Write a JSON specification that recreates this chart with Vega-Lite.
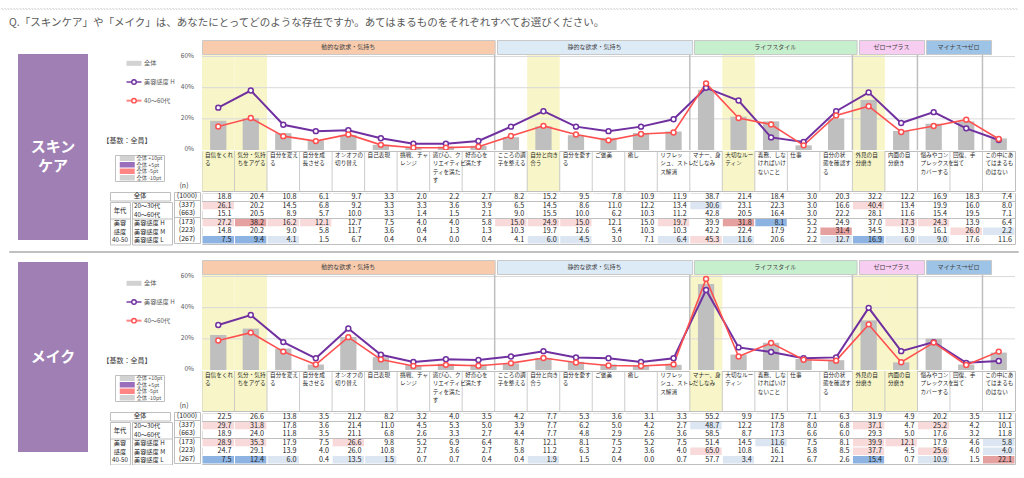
{
"$schema": "https://vega.github.io/schema/vega-lite/v6.json",
"background": "white",
"padding": {"top": 7, "left": 0, "right": 0, "bottom": 0},
"config": {"view": {"stroke": null}, "font": "Noto Sans CJK JP", "text": {"font": "Noto Sans CJK JP"}, "concat": {"spacing": 0}, "axis": {"disable": true}},
"datasets": {
"skin": [
{"i":1,"label":"自信をくれ\nる","hl":true,"all":18.8,"a2030":26.1,"a4060":15.1,"h":27.2,"m":14.8,"l":7.5},
{"i":2,"label":"気分・気持\nちをアゲる","hl":true,"all":20.4,"a2030":20.2,"a4060":20.5,"h":38.2,"m":20.2,"l":9.4},
{"i":3,"label":"自分を変え\nる","hl":false,"all":10.8,"a2030":14.5,"a4060":8.9,"h":16.2,"m":9.0,"l":4.1},
{"i":4,"label":"自分を成\n長させる","hl":false,"all":6.1,"a2030":6.8,"a4060":5.7,"h":12.1,"m":5.8,"l":1.5},
{"i":5,"label":"オンオフの\n切り替え","hl":false,"all":9.7,"a2030":9.2,"a4060":10.0,"h":12.7,"m":11.7,"l":6.7},
{"i":6,"label":"自己表現","hl":false,"all":3.3,"a2030":3.3,"a4060":3.3,"h":7.5,"m":3.6,"l":0.4},
{"i":7,"label":"挑戦、チャ\nレンジ","hl":false,"all":2.0,"a2030":3.3,"a4060":1.4,"h":4.0,"m":0.4,"l":0.4},
{"i":8,"label":"遊び心、ク\nリエイティビ\nティを満た\nす","hl":false,"all":2.2,"a2030":3.6,"a4060":1.5,"h":4.0,"m":1.3,"l":0.0},
{"i":9,"label":"好奇心を\n満たす","hl":false,"all":2.7,"a2030":3.9,"a4060":2.1,"h":5.8,"m":1.3,"l":0.4},
{"i":10,"label":"こころの調\n子を整える","hl":false,"all":8.2,"a2030":6.5,"a4060":9.0,"h":15.0,"m":10.3,"l":4.1},
{"i":11,"label":"自分と向き\n合う","hl":true,"all":15.2,"a2030":14.5,"a4060":15.5,"h":24.9,"m":19.7,"l":6.0},
{"i":12,"label":"自分を愛す\nる","hl":false,"all":9.5,"a2030":8.6,"a4060":10.0,"h":15.0,"m":12.6,"l":4.5},
{"i":13,"label":"ご褒美","hl":false,"all":7.8,"a2030":11.0,"a4060":6.2,"h":12.1,"m":5.4,"l":3.0},
{"i":14,"label":"癒し","hl":false,"all":10.9,"a2030":12.2,"a4060":10.3,"h":15.0,"m":10.3,"l":7.1},
{"i":15,"label":"リフレッ\nシュ、ストレ\nス解消","hl":false,"all":11.9,"a2030":13.4,"a4060":11.2,"h":19.7,"m":10.3,"l":6.4},
{"i":16,"label":"マナー、身\nだしなみ","hl":false,"all":38.7,"a2030":30.6,"a4060":42.8,"h":39.9,"m":42.2,"l":45.3},
{"i":17,"label":"大切なルー\nティン","hl":true,"all":21.4,"a2030":23.1,"a4060":20.5,"h":31.8,"m":22.4,"l":11.6},
{"i":18,"label":"義務、しな\nければいけ\nないこと","hl":false,"all":18.4,"a2030":22.3,"a4060":16.4,"h":8.1,"m":17.9,"l":20.6},
{"i":19,"label":"仕事","hl":false,"all":3.0,"a2030":3.0,"a4060":3.0,"h":5.2,"m":2.2,"l":2.2},
{"i":20,"label":"自分の状\n態を確認す\nる","hl":false,"all":20.3,"a2030":16.6,"a4060":22.2,"h":24.9,"m":31.4,"l":12.7},
{"i":21,"label":"外見の自\n分磨き","hl":true,"all":32.2,"a2030":40.4,"a4060":28.1,"h":37.0,"m":34.5,"l":16.9},
{"i":22,"label":"内面の自\n分磨き","hl":false,"all":12.2,"a2030":13.4,"a4060":11.6,"h":17.3,"m":13.9,"l":6.0},
{"i":23,"label":"悩みやコン\nプレックスを\nカバーする","hl":false,"all":16.9,"a2030":19.9,"a4060":15.4,"h":24.3,"m":16.1,"l":9.0},
{"i":24,"label":"回復、手\n当て","hl":false,"all":18.3,"a2030":16.0,"a4060":19.5,"h":13.9,"m":26.0,"l":17.6},
{"i":25,"label":"この中にあ\nてはまるも\nのはない","hl":false,"all":7.4,"a2030":8.0,"a4060":7.1,"h":6.4,"m":2.2,"l":11.6}
],
"make": [
{"i":1,"label":"自信をくれ\nる","hl":true,"all":22.5,"a2030":29.7,"a4060":18.9,"h":28.9,"m":24.7,"l":7.5},
{"i":2,"label":"気分・気持\nちをアゲる","hl":true,"all":26.6,"a2030":31.8,"a4060":24.0,"h":35.3,"m":29.1,"l":12.4},
{"i":3,"label":"自分を変え\nる","hl":false,"all":13.8,"a2030":17.8,"a4060":11.8,"h":17.9,"m":13.9,"l":6.0},
{"i":4,"label":"自分を成\n長させる","hl":false,"all":3.5,"a2030":3.6,"a4060":3.5,"h":7.5,"m":4.0,"l":0.4},
{"i":5,"label":"オンオフの\n切り替え","hl":false,"all":21.2,"a2030":21.4,"a4060":21.1,"h":26.6,"m":26.0,"l":13.5},
{"i":6,"label":"自己表現","hl":false,"all":8.2,"a2030":11.0,"a4060":6.8,"h":9.8,"m":10.8,"l":1.5},
{"i":7,"label":"挑戦、チャ\nレンジ","hl":false,"all":3.2,"a2030":4.5,"a4060":2.6,"h":5.2,"m":2.7,"l":0.7},
{"i":8,"label":"遊び心、ク\nリエイティビ\nティを満た\nす","hl":false,"all":4.0,"a2030":5.3,"a4060":3.3,"h":6.9,"m":3.6,"l":0.7},
{"i":9,"label":"好奇心を\n満たす","hl":false,"all":3.5,"a2030":5.0,"a4060":2.7,"h":6.4,"m":2.7,"l":0.4},
{"i":10,"label":"こころの調\n子を整える","hl":false,"all":4.2,"a2030":3.9,"a4060":4.4,"h":8.7,"m":5.8,"l":0.4},
{"i":11,"label":"自分と向き\n合う","hl":false,"all":7.7,"a2030":7.7,"a4060":7.7,"h":12.1,"m":11.2,"l":1.9},
{"i":12,"label":"自分を愛す\nる","hl":false,"all":5.3,"a2030":6.2,"a4060":4.8,"h":8.1,"m":6.3,"l":1.5},
{"i":13,"label":"ご褒美","hl":false,"all":3.6,"a2030":5.0,"a4060":2.9,"h":7.5,"m":2.2,"l":0.4},
{"i":14,"label":"癒し","hl":false,"all":3.1,"a2030":4.2,"a4060":2.6,"h":5.2,"m":3.6,"l":0.0},
{"i":15,"label":"リフレッ\nシュ、ストレ\nス解消","hl":false,"all":3.3,"a2030":2.7,"a4060":3.6,"h":7.5,"m":4.0,"l":0.7},
{"i":16,"label":"マナー、身\nだしなみ","hl":true,"all":55.2,"a2030":48.7,"a4060":58.5,"h":51.4,"m":65.0,"l":57.7},
{"i":17,"label":"大切なルー\nティン","hl":false,"all":9.9,"a2030":12.2,"a4060":8.7,"h":14.5,"m":10.8,"l":3.4},
{"i":18,"label":"義務、しな\nければいけ\nないこと","hl":false,"all":17.5,"a2030":17.8,"a4060":17.3,"h":11.6,"m":16.1,"l":22.1},
{"i":19,"label":"仕事","hl":false,"all":7.1,"a2030":8.0,"a4060":6.6,"h":7.5,"m":5.8,"l":6.7},
{"i":20,"label":"自分の状\n態を確認す\nる","hl":false,"all":6.3,"a2030":6.8,"a4060":6.0,"h":8.1,"m":8.5,"l":2.6},
{"i":21,"label":"外見の自\n分磨き","hl":true,"all":31.9,"a2030":37.1,"a4060":29.3,"h":39.9,"m":37.7,"l":15.4},
{"i":22,"label":"内面の自\n分磨き","hl":true,"all":4.9,"a2030":4.7,"a4060":5.0,"h":12.1,"m":4.5,"l":0.7},
{"i":23,"label":"悩みやコン\nプレックスを\nカバーする","hl":false,"all":20.2,"a2030":25.2,"a4060":17.6,"h":17.9,"m":25.6,"l":10.9},
{"i":24,"label":"回復、手\n当て","hl":false,"all":3.5,"a2030":4.2,"a4060":3.2,"h":4.6,"m":4.0,"l":1.5},
{"i":25,"label":"この中にあ\nてはまるも\nのはない","hl":false,"all":11.2,"a2030":10.1,"a4060":11.8,"h":5.8,"m":4.0,"l":22.1}
],
"bounds": [{"b":10},{"b":16},{"b":21},{"b":23},{"b":25}],
"ylab": [{"v":0,"lab":"0%"},{"v":20,"lab":"20%"},{"v":40,"lab":"40%"},{"v":60,"lab":"60%"}],
"rows": [{"key":"all","n":"(1000)"},{"key":"a2030","n":"(337)"},{"key":"a4060","n":"(663)"},{"key":"h","n":"(173)"},{"key":"m","n":"(223)"},{"key":"l","n":"(267)"}],
"series": [{"s":"全体"},{"s":"美容感度 H"},{"s":"40～60代"}],
"shade": [{"c":"p10","t":"全体 +10pt"},{"c":"p5","t":"全体 +5pt"},{"c":"m5","t":"全体 -5pt"},{"c":"m10","t":"全体 -10pt"}],
"grp2": [{"key":"h","t":"美容"},{"key":"m","t":"感度"},{"key":"l","t":"40-50"}],
"rlab": [{"key":"a2030","t":"20～30代"},{"key":"a4060","t":"40～60代"},{"key":"h","t":"美容感度 H"},{"key":"m","t":"美容感度 M"},{"key":"l","t":"美容感度 L"}]
},
"spacing": 0,
"vconcat": [
{"width":1016,"height":1,"view":{"stroke":"#c8c8c8","strokeDash":[1,2]},"data":{"values":[{}]},"mark":{"type":"rect","opacity":0}},
{"width":1016,"height":25,"data":{"values":[{"t":"Q.「スキンケア」や「メイク」は、あなたにとってどのような存在ですか。あてはまるものをそれぞれすべてお選びください。"}]},"mark":{"type":"text","align":"left","dx":8,"fontSize":10.5,"color":"#595959","clip":true},"encoding":{"x":{"datum":0,"type":"quantitative","axis":null,"scale":{"domain":[0,1]}},"text":{"field":"t"}}},
{"width":1016,"height":4,"data":{"values":[{}]},"mark":{"type":"rect","opacity":0}},

{"spacing":0,"hconcat":[
 {"width":17,"height":10,"data":{"values":[{}]},"mark":{"type":"rect","opacity":0}},
 {"spacing":0,"vconcat":[
  {"width":70,"height":14,"data":{"values":[{}]},"mark":{"type":"rect","opacity":0}},
  {"width":70,"height":186,"view":{"fill":"#a080b4","stroke":null},"data":{"values":[{"t":"スキン\nケア"}]},"mark":{"type":"text","color":"white","fontSize":15,"fontWeight":"bold","lineBreak":"\n","lineHeight":19,"clip":true},"encoding":{"text":{"field":"t"}}}
 ]},
 {"width":8,"height":10,"data":{"values":[{}]},"mark":{"type":"rect","opacity":0}},
 {"spacing":0,"vconcat":[
  {"width":99,"height":9,"data":{"values":[{}]},"mark":{"type":"rect","opacity":0}},
  {"spacing":0,"hconcat":[
   {"spacing":0,"vconcat":[
    {"width":80,"height":5,"data":{"values":[{}]},"mark":{"type":"rect","opacity":0}},
    {"spacing":0,"hconcat":[
     {"width":24,"height":56,"data":{"values":[{}]},"mark":{"type":"rect","opacity":0}},
     {"width":56,"height":56,"data":{"name":"series"},
      "encoding":{"y":{"field":"s","type":"nominal","axis":null,"scale":{"type":"point","domain":["全体","美容感度 H","40～60代"],"padding":0.5}}},
      "layer":[
       {"transform":[{"filter":"datum.s === '全体'"}],"mark":{"type":"tick","orient":"horizontal","size":15,"thickness":5,"color":"#bfbfbf","clip":true},"encoding":{"x":{"datum":"sym","type":"nominal","axis":null,"scale":{"type":"band","domain":["sym","lab"],"paddingInner":0,"paddingOuter":0}}}},
       {"transform":[{"filter":"datum.s !== '全体'"}],"mark":{"type":"tick","orient":"horizontal","size":15,"thickness":2,"clip":true},"encoding":{"x":{"datum":"sym","type":"nominal","axis":null},"color":{"field":"s","type":"nominal","scale":{"domain":["全体","美容感度 H","40～60代"],"range":["#bfbfbf","#7030a0","#ff5050"]},"legend":null}}},
       {"transform":[{"filter":"datum.s !== '全体'"}],"mark":{"type":"point","filled":true,"fill":"white","strokeWidth":1.4,"size":20,"opacity":1,"clip":true},"encoding":{"x":{"datum":"sym","type":"nominal","axis":null},"stroke":{"field":"s","type":"nominal","scale":{"domain":["全体","美容感度 H","40～60代"],"range":["#bfbfbf","#7030a0","#ff5050"]},"legend":null}}},
       {"mark":{"type":"text","align":"left","dx":-4,"fontSize":6.2,"color":"#595959","clip":true},"encoding":{"x":{"datum":"sym","type":"nominal","bandPosition":1,"axis":null},"text":{"field":"s"}}}
      ]}
    ]},
    {"width":80,"height":26,"data":{"values":[{}]},"mark":{"type":"rect","opacity":0}},
    {"spacing":0,"hconcat":[
     {"width":6,"height":10,"data":{"values":[{}]},"mark":{"type":"rect","opacity":0}},
     {"width":50,"height":10,"data":{"values":[{"t":"【基数：全員】"}]},"mark":{"type":"text","fontSize":7,"color":"#404040","clip":true},"encoding":{"text":{"field":"t"}}}
    ]},
    {"width":80,"height":8,"data":{"values":[{}]},"mark":{"type":"rect","opacity":0}}
   ]},
   {"width":19,"height":105,"data":{"name":"ylab"},"mark":{"type":"text","align":"right","dx":-1,"fontSize":6.5,"color":"#595959","clip":true},"encoding":{"x":{"datum":1,"type":"quantitative","axis":null,"scale":{"domain":[0,1]}},"y":{"field":"v","type":"quantitative","axis":null,"scale":{"domain":[-3.21,64.21],"nice":false,"zero":false}},"text":{"field":"lab"}}}
  ]},
  {"spacing":0,"hconcat":[
   {"width":18,"height":35,"data":{"values":[{}]},"mark":{"type":"rect","opacity":0}},
   {"spacing":0,"vconcat":[
    {"width":49,"height":26,"view":{"stroke":"#bfbfbf","fill":"white"},"data":{"name":"shade"},
     "encoding":{"y":{"field":"c","type":"nominal","axis":null,"scale":{"type":"point","domain":["p10","p5","m5","m10"],"padding":0.5}}},
     "layer":[
      {"mark":{"type":"tick","orient":"horizontal","size":15,"thickness":5.5,"clip":true},"encoding":{"x":{"datum":"sw","type":"nominal","axis":null,"scale":{"type":"band","domain":["sw","lab"],"paddingInner":0,"paddingOuter":0}},"color":{"field":"c","type":"nominal","scale":{"domain":["p10","p5","m5","m10"],"range":["#e5a0a0","#f8dada","#dce6f2","#8db3e2"]},"legend":null}}},
      {"mark":{"type":"text","align":"left","dx":-3,"fontSize":5.3,"color":"#595959","clip":true},"encoding":{"x":{"datum":"lab","type":"nominal","bandPosition":0,"axis":null},"text":{"field":"t"}}}
     ]},
    {"width":49,"height":9,"data":{"values":[{}]},"mark":{"type":"rect","opacity":0}}
   ]},
   {"width":6,"height":35,"data":{"values":[{}]},"mark":{"type":"rect","opacity":0}},
   {"spacing":0,"vconcat":[
    {"width":26,"height":26,"data":{"values":[{}]},"mark":{"type":"rect","opacity":0}},
    {"width":26,"height":9,"data":{"values":[{"t":"(n)"}]},"mark":{"type":"text","fontSize":7,"color":"#404040","clip":true},"encoding":{"text":{"field":"t"}}}
   ]}
  ]},
  {"spacing":0,"hconcat":[
   {"width":13,"height":51,"data":{"values":[{}]},"mark":{"type":"rect","opacity":0}},
   {"spacing":0,"vconcat":[
    {"width":60,"height":8.5,"view":{"stroke":"#bfbfbf"},"data":{"values":[{"t":"全体"}]},"mark":{"type":"text","fontSize":6.3,"color":"#262626","clip":true},"encoding":{"text":{"field":"t"}}},
    {"spacing":0,"hconcat":[
     {"width":20,"height":42.5,"view":{"stroke":"#bfbfbf"},"layer":[
      {"data":{"values":[{"t":"年代"}]},"mark":{"type":"text","fontSize":6.3,"color":"#262626","clip":true},"encoding":{"y":{"datum":"a4060","type":"nominal","bandPosition":0,"axis":null,"scale":{"type":"band","domain":["a2030","a4060","h","m","l"],"paddingInner":0,"paddingOuter":0}},"text":{"field":"t"}}},
      {"data":{"name":"grp2"},"mark":{"type":"text","fontSize":6.2,"color":"#262626","clip":true},"encoding":{"y":{"field":"key","type":"nominal","axis":null},"text":{"field":"t"}}},
      {"data":{"values":[{"key":"h"}]},"mark":{"type":"rule","color":"#bfbfbf","clip":true},"encoding":{"y":{"field":"key","type":"nominal","bandPosition":0,"axis":null}}}
     ]},
     {"width":40,"height":42.5,"view":{"stroke":"#bfbfbf"},"layer":[
      {"data":{"name":"rlab"},"mark":{"type":"text","align":"left","dx":2,"fontSize":6.2,"color":"#262626","clip":true},"encoding":{"x":{"datum":0,"type":"quantitative","axis":null,"scale":{"domain":[0,1]}},"y":{"field":"key","type":"nominal","axis":null,"scale":{"type":"band","domain":["a2030","a4060","h","m","l"],"paddingInner":0,"paddingOuter":0}},"text":{"field":"t"}}},
      {"data":{"values":[{"key":"h"}]},"mark":{"type":"rule","color":"#bfbfbf","clip":true},"encoding":{"y":{"field":"key","type":"nominal","bandPosition":0,"axis":null}}}
     ]}
    ]}
   ]},
   {"width":26,"height":51,"view":{"stroke":"#bfbfbf"},"layer":[
    {"data":{"name":"rows"},"mark":{"type":"text","fontSize":7,"color":"#262626","clip":true},"encoding":{"y":{"field":"key","type":"nominal","axis":null,"scale":{"type":"band","domain":["all","a2030","a4060","h","m","l"],"paddingInner":0,"paddingOuter":0}},"text":{"field":"n"}}},
    {"data":{"values":[{"key":"a2030"},{"key":"h"}]},"mark":{"type":"rule","color":"#bfbfbf","clip":true},"encoding":{"y":{"field":"key","type":"nominal","bandPosition":0,"axis":null}}}
   ]}
  ]}
 ]},
 {"spacing":0,"vconcat":[
  {"spacing":0,"hconcat":[
   {"width":292.68,"height":14,"view":{"fill":"#f8cbad","stroke":"#c9c9c9"},"data":{"values":[{"g":"動的な欲求・気持ち"}]},"mark":{"type":"text","fontSize":6,"color":"#404040","clip":true},"encoding":{"text":{"field":"g"}}},
   {"width":195.12,"height":14,"view":{"fill":"#ddebf7","stroke":"#c9c9c9"},"data":{"values":[{"g":"静的な欲求・気持ち"}]},"mark":{"type":"text","fontSize":6,"color":"#404040","clip":true},"encoding":{"text":{"field":"g"}}},
   {"width":162.6,"height":14,"view":{"fill":"#c6efce","stroke":"#c9c9c9"},"data":{"values":[{"g":"ライフスタイル"}]},"mark":{"type":"text","fontSize":6,"color":"#404040","clip":true},"encoding":{"text":{"field":"g"}}},
   {"width":65.04,"height":14,"view":{"fill":"#f8cdf2","stroke":"#c9c9c9"},"data":{"values":[{"g":"ゼロ→プラス"}]},"mark":{"type":"text","fontSize":6,"color":"#404040","clip":true},"encoding":{"text":{"field":"g"}}},
   {"width":65.04,"height":14,"view":{"fill":"#9dc3e6","stroke":"#c9c9c9"},"data":{"values":[{"g":"マイナス→ゼロ"}]},"mark":{"type":"text","fontSize":6,"color":"#404040","clip":true},"encoding":{"text":{"field":"g"}}},
   {"width":32.52,"height":14,"data":{"values":[{}]},"mark":{"type":"rect","opacity":0}}
  ]},
  {"width":813,"height":95,"data":{"name":"skin"},"layer":[
   {"transform":[{"filter":"datum.hl"}],"mark":{"type":"rect","color":"#f8f6c8","clip":true},"encoding":{"x":{"field":"i","type":"ordinal","axis":null,"scale":{"domain":[1,2,3,4,5,6,7,8,9,10,11,12,13,14,15,16,17,18,19,20,21,22,23,24,25],"paddingInner":0,"paddingOuter":0}}}},
   {"data":{"name":"ylab"},"transform":[{"filter":"datum.v > 0"}],"mark":{"type":"rule","color":"#d9d9d9","clip":true},"encoding":{"y":{"field":"v","type":"quantitative","axis":null,"scale":{"domain":[0,61],"nice":false}}}},
   {"mark":{"type":"bar","color":"#bfbfbf","width":{"band":0.5},"clip":true},"encoding":{"x":{"field":"i","type":"ordinal","axis":null},"y":{"field":"all","type":"quantitative","axis":null,"scale":{"domain":[0,61],"nice":false}}}},
   {"data":{"name":"bounds"},"mark":{"type":"rule","color":"#bfbfbf","strokeWidth":1.5,"clip":true},"encoding":{"x":{"field":"b","type":"ordinal","bandPosition":0,"axis":null}}},
   {"mark":{"type":"line","color":"#7030a0","strokeWidth":2,"clip":true},"encoding":{"x":{"field":"i","type":"ordinal","axis":null},"y":{"field":"h","type":"quantitative","axis":null,"scale":{"domain":[0,61],"nice":false}}}},
   {"mark":{"type":"line","color":"#ff5050","strokeWidth":1.6,"clip":true},"encoding":{"x":{"field":"i","type":"ordinal","axis":null},"y":{"field":"a4060","type":"quantitative","axis":null,"scale":{"domain":[0,61],"nice":false}}}},
   {"mark":{"type":"point","filled":true,"fill":"white","stroke":"#7030a0","strokeWidth":1.5,"size":24,"opacity":1,"clip":true},"encoding":{"x":{"field":"i","type":"ordinal","axis":null},"y":{"field":"h","type":"quantitative","axis":null,"scale":{"domain":[0,61],"nice":false}}}},
   {"mark":{"type":"point","filled":true,"fill":"white","stroke":"#ff5050","strokeWidth":1.5,"size":24,"opacity":1,"clip":true},"encoding":{"x":{"field":"i","type":"ordinal","axis":null},"y":{"field":"a4060","type":"quantitative","axis":null,"scale":{"domain":[0,61],"nice":false}}}}
  ]},
  {"width":813,"height":40,"data":{"name":"skin"},"view":{"stroke":"#bfbfbf"},"layer":[
   {"transform":[{"filter":"datum.hl"}],"mark":{"type":"rect","color":"#f8f6c8","clip":true},"encoding":{"x":{"field":"i","type":"ordinal","axis":null,"scale":{"domain":[1,2,3,4,5,6,7,8,9,10,11,12,13,14,15,16,17,18,19,20,21,22,23,24,25],"paddingInner":0,"paddingOuter":0}}}},
   {"mark":{"type":"rule","color":"#bfbfbf","strokeWidth":0.8,"clip":true},"encoding":{"x":{"field":"i","type":"ordinal","bandPosition":0,"axis":null}}},
   {"mark":{"type":"text","align":"left","baseline":"top","lineBreak":"\n","fontSize":5.6,"lineHeight":8.3,"dx":3,"dy":2,"color":"#262626","clip":true},"encoding":{"x":{"field":"i","type":"ordinal","bandPosition":0,"axis":null},"y":{"datum":1,"type":"quantitative","axis":null,"scale":{"domain":[0,1]}},"text":{"field":"label"}}}
  ]},
  {"width":813,"height":51,"view":{"stroke":"#bfbfbf"},"layer":[
   {"data":{"name":"skin"},"transform":[{"fold":["all","a2030","a4060","h","m","l"],"as":["key","v"]}],"mark":{"type":"rect","stroke":"white","strokeWidth":1,"clip":true},"encoding":{"x":{"field":"i","type":"ordinal","axis":null,"scale":{"domain":[1,2,3,4,5,6,7,8,9,10,11,12,13,14,15,16,17,18,19,20,21,22,23,24,25],"paddingInner":0,"paddingOuter":0}},"y":{"field":"key","type":"nominal","axis":null,"scale":{"type":"band","domain":["all","a2030","a4060","h","m","l"],"paddingInner":0,"paddingOuter":0}},"color":{"condition":[{"test":"datum.v - datum.all >= 9.95","value":"#e5a0a0"},{"test":"datum.v - datum.all >= 4.95","value":"#f8dada"},{"test":"datum.v - datum.all <= -9.95","value":"#8db3e2"},{"test":"datum.v - datum.all <= -4.95","value":"#dce6f2"}],"value":"transparent"}}},
   {"data":{"name":"skin"},"transform":[{"fold":["all","a2030","a4060","h","m","l"],"as":["key","v"]}],"mark":{"type":"text","align":"right","dx":-3,"fontSize":7.2,"color":"#262626","clip":true},"encoding":{"x":{"field":"i","type":"ordinal","bandPosition":1,"axis":null},"y":{"field":"key","type":"nominal","axis":null},"text":{"field":"v","type":"quantitative","format":".1f"}}},
   {"data":{"values":[{"key":"a2030"},{"key":"h"}]},"mark":{"type":"rule","color":"#bfbfbf","clip":true},"encoding":{"y":{"field":"key","type":"nominal","bandPosition":0,"axis":null}}}
  ]}
 ]}
]},

{"width":1016,"height":5,"data":{"values":[{}]},"mark":{"type":"rect","opacity":0}},
{"spacing":0,"hconcat":[
 {"width":7,"height":1,"data":{"values":[{}]},"mark":{"type":"rect","opacity":0}},
 {"width":1009,"height":1,"view":{"stroke":"#c0c0c0"},"data":{"values":[{}]},"mark":{"type":"rect","opacity":0}}
]},
{"width":1016,"height":6,"data":{"values":[{}]},"mark":{"type":"rect","opacity":0}},

{"spacing":0,"hconcat":[
 {"width":17,"height":10,"data":{"values":[{}]},"mark":{"type":"rect","opacity":0}},
 {"spacing":0,"vconcat":[
  {"width":70,"height":2,"data":{"values":[{}]},"mark":{"type":"rect","opacity":0}},
  {"width":70,"height":190,"view":{"fill":"#a080b4","stroke":null},"data":{"values":[{"t":"メイク"}]},"mark":{"type":"text","color":"white","fontSize":15,"fontWeight":"bold","clip":true},"encoding":{"text":{"field":"t"}}}
 ]},
 {"width":8,"height":10,"data":{"values":[{}]},"mark":{"type":"rect","opacity":0}},
 {"spacing":0,"vconcat":[
  {"width":99,"height":9,"data":{"values":[{}]},"mark":{"type":"rect","opacity":0}},
  {"spacing":0,"hconcat":[
   {"spacing":0,"vconcat":[
    {"width":80,"height":5,"data":{"values":[{}]},"mark":{"type":"rect","opacity":0}},
    {"spacing":0,"hconcat":[
     {"width":24,"height":56,"data":{"values":[{}]},"mark":{"type":"rect","opacity":0}},
     {"width":56,"height":56,"data":{"name":"series"},
      "encoding":{"y":{"field":"s","type":"nominal","axis":null,"scale":{"type":"point","domain":["全体","美容感度 H","40～60代"],"padding":0.5}}},
      "layer":[
       {"transform":[{"filter":"datum.s === '全体'"}],"mark":{"type":"tick","orient":"horizontal","size":15,"thickness":5,"color":"#bfbfbf","clip":true},"encoding":{"x":{"datum":"sym","type":"nominal","axis":null,"scale":{"type":"band","domain":["sym","lab"],"paddingInner":0,"paddingOuter":0}}}},
       {"transform":[{"filter":"datum.s !== '全体'"}],"mark":{"type":"tick","orient":"horizontal","size":15,"thickness":2,"clip":true},"encoding":{"x":{"datum":"sym","type":"nominal","axis":null},"color":{"field":"s","type":"nominal","scale":{"domain":["全体","美容感度 H","40～60代"],"range":["#bfbfbf","#7030a0","#ff5050"]},"legend":null}}},
       {"transform":[{"filter":"datum.s !== '全体'"}],"mark":{"type":"point","filled":true,"fill":"white","strokeWidth":1.4,"size":20,"opacity":1,"clip":true},"encoding":{"x":{"datum":"sym","type":"nominal","axis":null},"stroke":{"field":"s","type":"nominal","scale":{"domain":["全体","美容感度 H","40～60代"],"range":["#bfbfbf","#7030a0","#ff5050"]},"legend":null}}},
       {"mark":{"type":"text","align":"left","dx":-4,"fontSize":6.2,"color":"#595959","clip":true},"encoding":{"x":{"datum":"sym","type":"nominal","bandPosition":1,"axis":null},"text":{"field":"s"}}}
      ]}
    ]},
    {"width":80,"height":26,"data":{"values":[{}]},"mark":{"type":"rect","opacity":0}},
    {"spacing":0,"hconcat":[
     {"width":6,"height":10,"data":{"values":[{}]},"mark":{"type":"rect","opacity":0}},
     {"width":50,"height":10,"data":{"values":[{"t":"【基数：全員】"}]},"mark":{"type":"text","fontSize":7,"color":"#404040","clip":true},"encoding":{"text":{"field":"t"}}}
    ]},
    {"width":80,"height":8,"data":{"values":[{}]},"mark":{"type":"rect","opacity":0}}
   ]},
   {"width":19,"height":105,"data":{"name":"ylab"},"mark":{"type":"text","align":"right","dx":-1,"fontSize":6.5,"color":"#595959","clip":true},"encoding":{"x":{"datum":1,"type":"quantitative","axis":null,"scale":{"domain":[0,1]}},"y":{"field":"v","type":"quantitative","axis":null,"scale":{"domain":[-3.21,64.21],"nice":false,"zero":false}},"text":{"field":"lab"}}}
  ]},
  {"spacing":0,"hconcat":[
   {"width":18,"height":35,"data":{"values":[{}]},"mark":{"type":"rect","opacity":0}},
   {"spacing":0,"vconcat":[
    {"width":49,"height":26,"view":{"stroke":"#bfbfbf","fill":"white"},"data":{"name":"shade"},
     "encoding":{"y":{"field":"c","type":"nominal","axis":null,"scale":{"type":"point","domain":["p10","p5","m5","m10"],"padding":0.5}}},
     "layer":[
      {"mark":{"type":"tick","orient":"horizontal","size":15,"thickness":5.5,"clip":true},"encoding":{"x":{"datum":"sw","type":"nominal","axis":null,"scale":{"type":"band","domain":["sw","lab"],"paddingInner":0,"paddingOuter":0}},"color":{"field":"c","type":"nominal","scale":{"domain":["p10","p5","m5","m10"],"range":["#e5a0a0","#f8dada","#dce6f2","#8db3e2"]},"legend":null}}},
      {"mark":{"type":"text","align":"left","dx":-3,"fontSize":5.3,"color":"#595959","clip":true},"encoding":{"x":{"datum":"lab","type":"nominal","bandPosition":0,"axis":null},"text":{"field":"t"}}}
     ]},
    {"width":49,"height":9,"data":{"values":[{}]},"mark":{"type":"rect","opacity":0}}
   ]},
   {"width":6,"height":35,"data":{"values":[{}]},"mark":{"type":"rect","opacity":0}},
   {"spacing":0,"vconcat":[
    {"width":26,"height":26,"data":{"values":[{}]},"mark":{"type":"rect","opacity":0}},
    {"width":26,"height":9,"data":{"values":[{"t":"(n)"}]},"mark":{"type":"text","fontSize":7,"color":"#404040","clip":true},"encoding":{"text":{"field":"t"}}}
   ]}
  ]},
  {"spacing":0,"hconcat":[
   {"width":13,"height":51,"data":{"values":[{}]},"mark":{"type":"rect","opacity":0}},
   {"spacing":0,"vconcat":[
    {"width":60,"height":8.5,"view":{"stroke":"#bfbfbf"},"data":{"values":[{"t":"全体"}]},"mark":{"type":"text","fontSize":6.3,"color":"#262626","clip":true},"encoding":{"text":{"field":"t"}}},
    {"spacing":0,"hconcat":[
     {"width":20,"height":42.5,"view":{"stroke":"#bfbfbf"},"layer":[
      {"data":{"values":[{"t":"年代"}]},"mark":{"type":"text","fontSize":6.3,"color":"#262626","clip":true},"encoding":{"y":{"datum":"a4060","type":"nominal","bandPosition":0,"axis":null,"scale":{"type":"band","domain":["a2030","a4060","h","m","l"],"paddingInner":0,"paddingOuter":0}},"text":{"field":"t"}}},
      {"data":{"name":"grp2"},"mark":{"type":"text","fontSize":6.2,"color":"#262626","clip":true},"encoding":{"y":{"field":"key","type":"nominal","axis":null},"text":{"field":"t"}}},
      {"data":{"values":[{"key":"h"}]},"mark":{"type":"rule","color":"#bfbfbf","clip":true},"encoding":{"y":{"field":"key","type":"nominal","bandPosition":0,"axis":null}}}
     ]},
     {"width":40,"height":42.5,"view":{"stroke":"#bfbfbf"},"layer":[
      {"data":{"name":"rlab"},"mark":{"type":"text","align":"left","dx":2,"fontSize":6.2,"color":"#262626","clip":true},"encoding":{"x":{"datum":0,"type":"quantitative","axis":null,"scale":{"domain":[0,1]}},"y":{"field":"key","type":"nominal","axis":null,"scale":{"type":"band","domain":["a2030","a4060","h","m","l"],"paddingInner":0,"paddingOuter":0}},"text":{"field":"t"}}},
      {"data":{"values":[{"key":"h"}]},"mark":{"type":"rule","color":"#bfbfbf","clip":true},"encoding":{"y":{"field":"key","type":"nominal","bandPosition":0,"axis":null}}}
     ]}
    ]}
   ]},
   {"width":26,"height":51,"view":{"stroke":"#bfbfbf"},"layer":[
    {"data":{"name":"rows"},"mark":{"type":"text","fontSize":7,"color":"#262626","clip":true},"encoding":{"y":{"field":"key","type":"nominal","axis":null,"scale":{"type":"band","domain":["all","a2030","a4060","h","m","l"],"paddingInner":0,"paddingOuter":0}},"text":{"field":"n"}}},
    {"data":{"values":[{"key":"a2030"},{"key":"h"}]},"mark":{"type":"rule","color":"#bfbfbf","clip":true},"encoding":{"y":{"field":"key","type":"nominal","bandPosition":0,"axis":null}}}
   ]}
  ]}
 ]},
 {"spacing":0,"vconcat":[
  {"spacing":0,"hconcat":[
   {"width":292.68,"height":14,"view":{"fill":"#f8cbad","stroke":"#c9c9c9"},"data":{"values":[{"g":"動的な欲求・気持ち"}]},"mark":{"type":"text","fontSize":6,"color":"#404040","clip":true},"encoding":{"text":{"field":"g"}}},
   {"width":195.12,"height":14,"view":{"fill":"#ddebf7","stroke":"#c9c9c9"},"data":{"values":[{"g":"静的な欲求・気持ち"}]},"mark":{"type":"text","fontSize":6,"color":"#404040","clip":true},"encoding":{"text":{"field":"g"}}},
   {"width":162.6,"height":14,"view":{"fill":"#c6efce","stroke":"#c9c9c9"},"data":{"values":[{"g":"ライフスタイル"}]},"mark":{"type":"text","fontSize":6,"color":"#404040","clip":true},"encoding":{"text":{"field":"g"}}},
   {"width":65.04,"height":14,"view":{"fill":"#f8cdf2","stroke":"#c9c9c9"},"data":{"values":[{"g":"ゼロ→プラス"}]},"mark":{"type":"text","fontSize":6,"color":"#404040","clip":true},"encoding":{"text":{"field":"g"}}},
   {"width":65.04,"height":14,"view":{"fill":"#9dc3e6","stroke":"#c9c9c9"},"data":{"values":[{"g":"マイナス→ゼロ"}]},"mark":{"type":"text","fontSize":6,"color":"#404040","clip":true},"encoding":{"text":{"field":"g"}}},
   {"width":32.52,"height":14,"data":{"values":[{}]},"mark":{"type":"rect","opacity":0}}
  ]},
  {"width":813,"height":95,"data":{"name":"make"},"layer":[
   {"transform":[{"filter":"datum.hl"}],"mark":{"type":"rect","color":"#f8f6c8","clip":true},"encoding":{"x":{"field":"i","type":"ordinal","axis":null,"scale":{"domain":[1,2,3,4,5,6,7,8,9,10,11,12,13,14,15,16,17,18,19,20,21,22,23,24,25],"paddingInner":0,"paddingOuter":0}}}},
   {"data":{"name":"ylab"},"transform":[{"filter":"datum.v > 0"}],"mark":{"type":"rule","color":"#d9d9d9","clip":true},"encoding":{"y":{"field":"v","type":"quantitative","axis":null,"scale":{"domain":[0,61],"nice":false}}}},
   {"mark":{"type":"bar","color":"#bfbfbf","width":{"band":0.5},"clip":true},"encoding":{"x":{"field":"i","type":"ordinal","axis":null},"y":{"field":"all","type":"quantitative","axis":null,"scale":{"domain":[0,61],"nice":false}}}},
   {"data":{"name":"bounds"},"mark":{"type":"rule","color":"#bfbfbf","strokeWidth":1.5,"clip":true},"encoding":{"x":{"field":"b","type":"ordinal","bandPosition":0,"axis":null}}},
   {"mark":{"type":"line","color":"#7030a0","strokeWidth":2,"clip":true},"encoding":{"x":{"field":"i","type":"ordinal","axis":null},"y":{"field":"h","type":"quantitative","axis":null,"scale":{"domain":[0,61],"nice":false}}}},
   {"mark":{"type":"line","color":"#ff5050","strokeWidth":1.6,"clip":true},"encoding":{"x":{"field":"i","type":"ordinal","axis":null},"y":{"field":"a4060","type":"quantitative","axis":null,"scale":{"domain":[0,61],"nice":false}}}},
   {"mark":{"type":"point","filled":true,"fill":"white","stroke":"#7030a0","strokeWidth":1.5,"size":24,"opacity":1,"clip":true},"encoding":{"x":{"field":"i","type":"ordinal","axis":null},"y":{"field":"h","type":"quantitative","axis":null,"scale":{"domain":[0,61],"nice":false}}}},
   {"mark":{"type":"point","filled":true,"fill":"white","stroke":"#ff5050","strokeWidth":1.5,"size":24,"opacity":1,"clip":true},"encoding":{"x":{"field":"i","type":"ordinal","axis":null},"y":{"field":"a4060","type":"quantitative","axis":null,"scale":{"domain":[0,61],"nice":false}}}}
  ]},
  {"width":813,"height":40,"data":{"name":"make"},"view":{"stroke":"#bfbfbf"},"layer":[
   {"transform":[{"filter":"datum.hl"}],"mark":{"type":"rect","color":"#f8f6c8","clip":true},"encoding":{"x":{"field":"i","type":"ordinal","axis":null,"scale":{"domain":[1,2,3,4,5,6,7,8,9,10,11,12,13,14,15,16,17,18,19,20,21,22,23,24,25],"paddingInner":0,"paddingOuter":0}}}},
   {"mark":{"type":"rule","color":"#bfbfbf","strokeWidth":0.8,"clip":true},"encoding":{"x":{"field":"i","type":"ordinal","bandPosition":0,"axis":null}}},
   {"mark":{"type":"text","align":"left","baseline":"top","lineBreak":"\n","fontSize":5.6,"lineHeight":8.3,"dx":3,"dy":2,"color":"#262626","clip":true},"encoding":{"x":{"field":"i","type":"ordinal","bandPosition":0,"axis":null},"y":{"datum":1,"type":"quantitative","axis":null,"scale":{"domain":[0,1]}},"text":{"field":"label"}}}
  ]},
  {"width":813,"height":51,"view":{"stroke":"#bfbfbf"},"layer":[
   {"data":{"name":"make"},"transform":[{"fold":["all","a2030","a4060","h","m","l"],"as":["key","v"]}],"mark":{"type":"rect","stroke":"white","strokeWidth":1,"clip":true},"encoding":{"x":{"field":"i","type":"ordinal","axis":null,"scale":{"domain":[1,2,3,4,5,6,7,8,9,10,11,12,13,14,15,16,17,18,19,20,21,22,23,24,25],"paddingInner":0,"paddingOuter":0}},"y":{"field":"key","type":"nominal","axis":null,"scale":{"type":"band","domain":["all","a2030","a4060","h","m","l"],"paddingInner":0,"paddingOuter":0}},"color":{"condition":[{"test":"datum.v - datum.all >= 9.95","value":"#e5a0a0"},{"test":"datum.v - datum.all >= 4.95","value":"#f8dada"},{"test":"datum.v - datum.all <= -9.95","value":"#8db3e2"},{"test":"datum.v - datum.all <= -4.95","value":"#dce6f2"}],"value":"transparent"}}},
   {"data":{"name":"make"},"transform":[{"fold":["all","a2030","a4060","h","m","l"],"as":["key","v"]}],"mark":{"type":"text","align":"right","dx":-3,"fontSize":7.2,"color":"#262626","clip":true},"encoding":{"x":{"field":"i","type":"ordinal","bandPosition":1,"axis":null},"y":{"field":"key","type":"nominal","axis":null},"text":{"field":"v","type":"quantitative","format":".1f"}}},
   {"data":{"values":[{"key":"a2030"},{"key":"h"}]},"mark":{"type":"rule","color":"#bfbfbf","clip":true},"encoding":{"y":{"field":"key","type":"nominal","bandPosition":0,"axis":null}}}
  ]}
 ]}
]}
]
}
